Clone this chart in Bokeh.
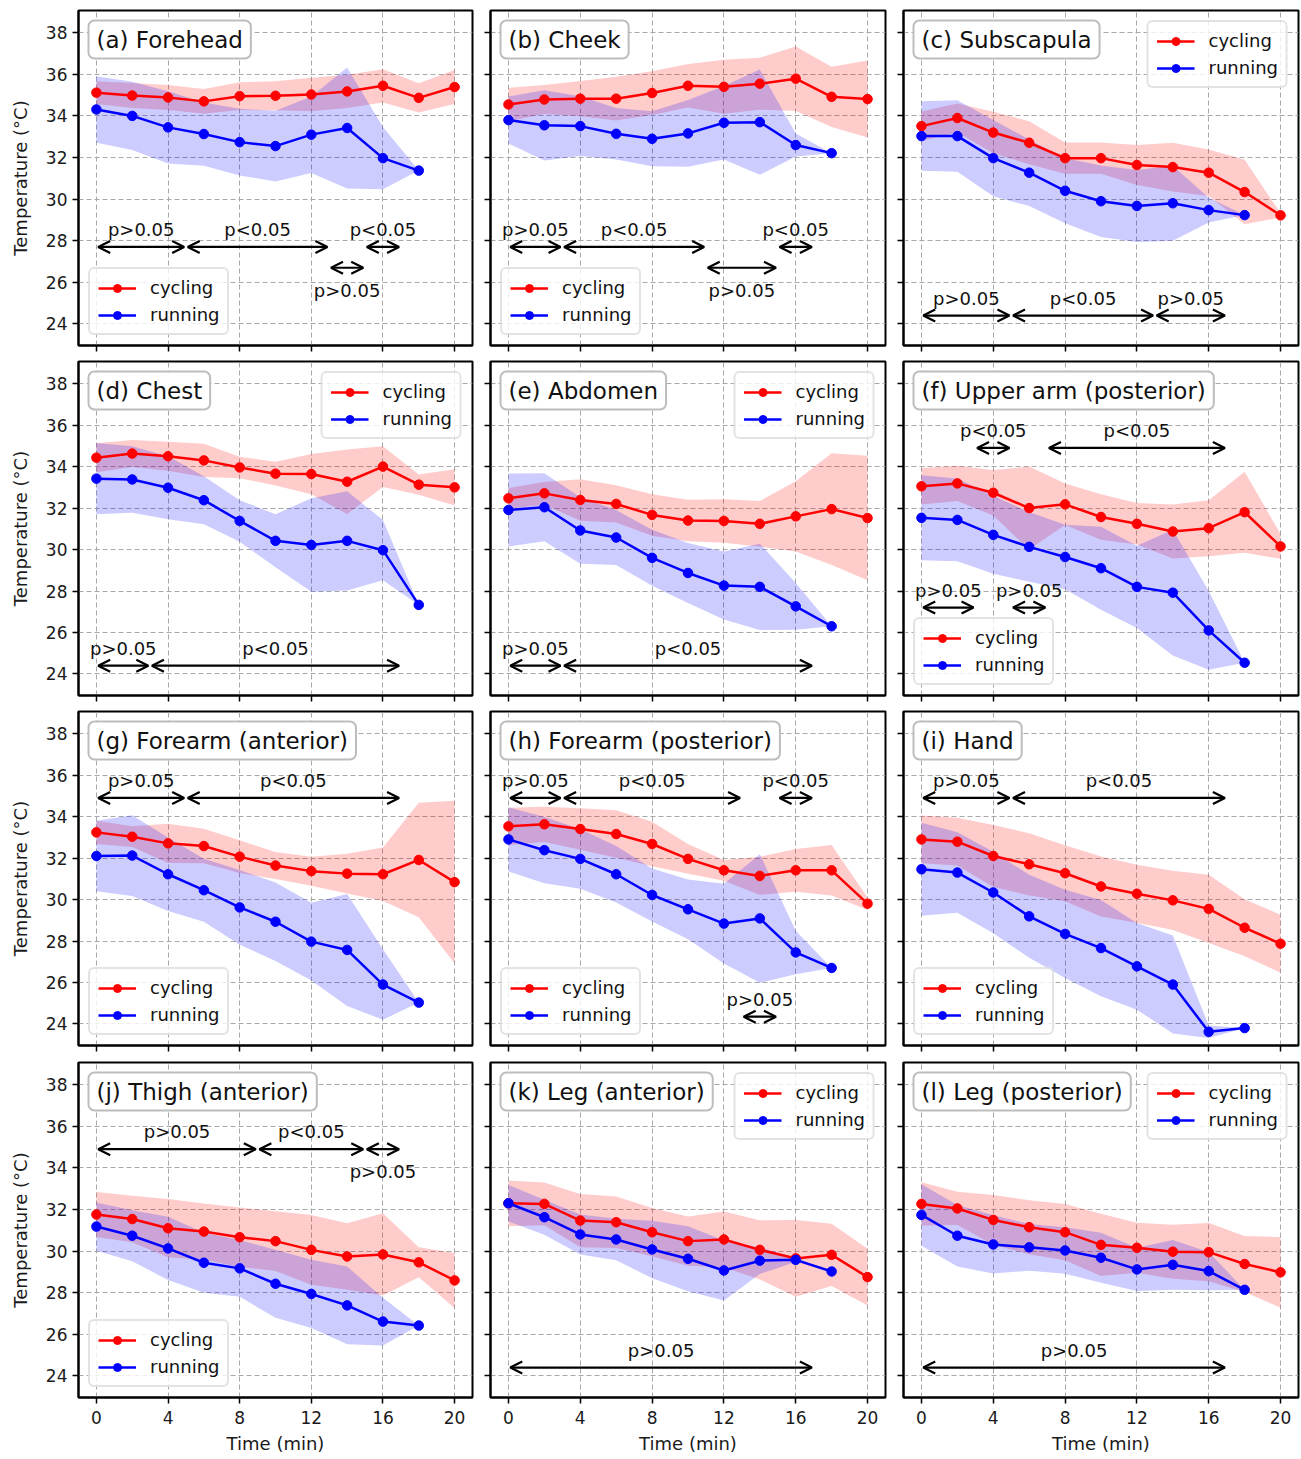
from bokeh.plotting import figure
from bokeh.layouts import gridplot
from bokeh.models import (Range1d, FixedTicker, Label, Arrow, OpenHead, Legend,
                          LegendItem, ColumnDataSource, CustomJSTickFormatter)
from bokeh.embed import file_html
from bokeh.resources import INLINE

# ---------------- data ----------------
time_cycling = [0, 2, 4, 6, 8, 10, 12, 14, 16, 18, 20]
time_running = [0, 2, 4, 6, 8, 10, 12, 14, 16, 18]
x_ticks = [0, 4, 8, 12, 16, 20]
y_ticks = [24, 26, 28, 30, 32, 34, 36, 38]
series_names = ["cycling", "running"]

titles = ["(a) Forehead", "(b) Cheek", "(c) Subscapula", "(d) Chest", "(e) Abdomen",
          "(f) Upper arm (posterior)", "(g) Forearm (anterior)", "(h) Forearm (posterior)",
          "(i) Hand", "(j) Thigh (anterior)", "(k) Leg (anterior)", "(l) Leg (posterior)"]

forehead_cyc = [35.12, 34.98, 34.89, 34.70, 34.95, 34.97, 35.03, 35.18, 35.45, 34.87, 35.39]
forehead_cyc_sd = [0.55, 0.6, 0.6, 0.6, 0.67, 0.7, 0.8, 0.8, 0.8, 0.7, 0.82]
forehead_run = [34.31, 34.00, 33.45, 33.13, 32.74, 32.55, 33.10, 33.42, 31.97, 31.37]
forehead_run_sd = [1.6, 1.64, 1.74, 1.52, 1.6, 1.7, 1.84, 2.91, 1.5, 0.0]

cheek_cyc = [34.55, 34.79, 34.83, 34.83, 35.10, 35.45, 35.40, 35.55, 35.79, 34.92, 34.81]
cheek_cyc_sd = [0.8, 0.7, 0.85, 1.05, 1.05, 1.05, 1.3, 1.25, 1.55, 1.45, 1.85]
cheek_run = [33.80, 33.55, 33.51, 33.14, 32.90, 33.16, 33.67, 33.70, 32.60, 32.21]
cheek_run_sd = [1.13, 1.69, 1.44, 1.24, 1.32, 1.6, 1.77, 2.53, 0.55, 0.0]

subscapula_cyc = [33.51, 33.90, 33.20, 32.71, 31.97, 31.97, 31.64, 31.54, 31.27, 30.34, 29.22]
subscapula_cyc_sd = [0.7, 0.7, 1.0, 1.03, 0.75, 0.75, 0.96, 1.17, 1.12, 1.55, 0.1]
subscapula_run = [33.03, 33.03, 31.97, 31.27, 30.40, 29.90, 29.67, 29.80, 29.47, 29.23]
subscapula_run_sd = [1.67, 1.72, 1.83, 1.6, 1.56, 1.72, 1.73, 1.8, 0.6, 0.0]

chest_cyc = [34.43, 34.63, 34.50, 34.30, 33.96, 33.66, 33.64, 33.27, 34.00, 33.13, 33.00]
chest_cyc_sd = [0.7, 0.65, 0.7, 0.8, 0.52, 0.57, 0.97, 1.56, 0.98, 0.49, 0.87]
chest_run = [33.42, 33.38, 32.98, 32.38, 31.38, 30.42, 30.22, 30.42, 29.97, 27.33]
chest_run_sd = [1.72, 1.6, 1.52, 1.16, 1.0, 1.28, 2.25, 2.39, 1.45, 0.0]

abdomen_cyc = [32.47, 32.71, 32.39, 32.20, 31.67, 31.40, 31.38, 31.24, 31.60, 31.95, 31.52]
abdomen_cyc_sd = [0.5, 0.55, 1.0, 0.9, 1.0, 1.0, 1.05, 1.1, 1.7, 2.7, 3.0]
abdomen_run = [31.91, 32.04, 30.92, 30.58, 29.60, 28.87, 28.26, 28.20, 27.26, 26.30]
abdomen_run_sd = [1.76, 1.64, 1.6, 1.33, 1.35, 1.45, 1.64, 2.08, 1.13, 0.0]

upperarm_cyc = [33.05, 33.19, 32.74, 32.00, 32.18, 31.57, 31.24, 30.87, 31.03, 31.80, 30.15]
upperarm_cyc_sd = [0.88, 0.85, 1.1, 2.0, 1.0, 1.1, 1.0, 1.3, 1.35, 1.95, 0.6]
upperarm_run = [31.53, 31.43, 30.71, 30.13, 29.64, 29.10, 28.20, 27.92, 26.10, 24.54]
upperarm_run_sd = [2.05, 2.0, 1.88, 1.68, 1.55, 2.0, 1.98, 3.03, 1.9, 0.0]

forearm_ant_cyc = [33.24, 33.03, 32.71, 32.58, 32.07, 31.64, 31.37, 31.25, 31.22, 31.91, 30.84]
forearm_ant_cyc_sd = [0.56, 0.5, 0.95, 0.83, 0.79, 0.65, 0.7, 0.96, 1.29, 2.76, 3.93]
forearm_ant_run = [32.10, 32.12, 31.22, 30.45, 29.62, 28.93, 27.97, 27.57, 25.90, 25.03]
forearm_ant_run_sd = [1.7, 1.95, 1.77, 1.52, 1.8, 1.89, 1.88, 2.7, 1.7, 0.0]

forearm_post_cyc = [33.53, 33.63, 33.40, 33.16, 32.68, 31.96, 31.41, 31.14, 31.41, 31.41, 29.80]
forearm_post_cyc_sd = [0.9, 0.85, 1.0, 1.15, 1.07, 0.72, 0.5, 0.92, 1.03, 1.22, 0.3]
forearm_post_run = [32.90, 32.38, 31.96, 31.22, 30.22, 29.53, 28.84, 29.09, 27.45, 26.70]
forearm_post_run_sd = [1.55, 1.6, 1.44, 1.36, 1.28, 1.44, 1.92, 3.1, 1.05, 0.0]

hand_cyc = [32.90, 32.79, 32.10, 31.70, 31.27, 30.63, 30.28, 29.96, 29.55, 28.64, 27.87]
hand_cyc_sd = [1.15, 1.15, 1.5, 1.5, 1.35, 1.45, 1.4, 1.43, 1.65, 1.37, 1.4]
hand_run = [31.46, 31.30, 30.34, 29.19, 28.34, 27.66, 26.78, 25.90, 23.62, 23.80]
hand_run_sd = [2.24, 1.94, 1.97, 2.0, 2.13, 2.32, 2.09, 2.36, 0.3, 0.0]

thigh_cyc = [31.76, 31.54, 31.10, 30.94, 30.67, 30.48, 30.06, 29.74, 29.84, 29.46, 28.59]
thigh_cyc_sd = [1.08, 1.12, 1.4, 1.35, 1.43, 1.44, 1.68, 1.6, 1.98, 0.72, 1.32]
thigh_run = [31.18, 30.74, 30.13, 29.44, 29.17, 28.43, 27.94, 27.39, 26.61, 26.42]
thigh_run_sd = [1.16, 1.23, 1.52, 1.44, 1.36, 1.64, 1.64, 1.87, 1.15, 0.0]

leg_ant_cyc = [32.30, 32.27, 31.47, 31.39, 30.91, 30.48, 30.56, 30.06, 29.65, 29.82, 28.75]
leg_ant_cyc_sd = [1.1, 1.03, 1.28, 1.24, 1.16, 1.19, 1.34, 1.42, 1.84, 1.5, 1.36]
leg_ant_run = [32.30, 31.63, 30.80, 30.56, 30.08, 29.63, 29.07, 29.54, 29.58, 29.02]
leg_ant_run_sd = [0.88, 0.84, 0.96, 1.0, 1.38, 1.56, 1.44, 0.64, 0.1, 0.0]

leg_post_cyc = [32.27, 32.05, 31.50, 31.15, 30.91, 30.30, 30.16, 29.97, 29.95, 29.38, 28.98]
leg_post_cyc_sd = [1.04, 0.8, 1.2, 1.3, 1.35, 1.5, 1.2, 1.3, 1.4, 1.35, 1.7]
leg_post_run = [31.74, 30.74, 30.32, 30.18, 30.03, 29.68, 29.12, 29.34, 29.04, 28.14]
leg_post_run_sd = [1.48, 1.48, 1.4, 1.12, 1.12, 1.2, 1.04, 1.2, 0.92, 0.0]

# significance intervals (start min, end min, label)
forehead_p = [(0, 5, "p>0.05"), (5, 13, "p<0.05"), (15, 17, "p<0.05"), (13, 15, "p>0.05")]
cheek_p = [(0, 3, "p>0.05"), (3, 11, "p<0.05"), (15, 17, "p<0.05"), (11, 15, "p>0.05")]
subscapula_p = [(0, 5, "p>0.05"), (5, 13, "p<0.05"), (13, 17, "p>0.05")]
chest_p = [(0, 3, "p>0.05"), (3, 17, "p<0.05")]
abdomen_p = [(0, 3, "p>0.05"), (3, 17, "p<0.05")]
upperarm_p = [(3, 5, "p<0.05"), (7, 17, "p<0.05"), (0, 3, "p>0.05"), (5, 7, "p>0.05")]
forearm_ant_p = [(0, 5, "p>0.05"), (5, 17, "p<0.05")]
forearm_post_p = [(0, 3, "p>0.05"), (3, 13, "p<0.05"), (15, 17, "p<0.05"), (13, 15, "p>0.05")]
hand_p = [(0, 5, "p>0.05"), (5, 17, "p<0.05")]
thigh_p = [(0, 9, "p>0.05"), (9, 15, "p<0.05"), (15, 17, "p>0.05")]
leg_ant_p = [(0, 17, "p>0.05")]
leg_post_p = [(0, 17, "p>0.05")]

# ---------------- layout / style ----------------
forehead_p_pos = [(27.7, "above"), (27.7, "above"), (27.7, "above"), (26.7, "below")]
cheek_p_pos = [(27.7, "above"), (27.7, "above"), (27.7, "above"), (26.7, "below")]
subscapula_p_pos = [(24.4, "above")] * 3
chest_p_pos = [(24.4, "above")] * 2
abdomen_p_pos = [(24.4, "above")] * 2
upperarm_p_pos = [(34.9, "above"), (34.9, "above"), (27.2, "above"), (27.2, "above")]
forearm_ant_p_pos = [(34.9, "above")] * 2
forearm_post_p_pos = [(34.9, "above")] * 3 + [(24.35, "above")]
hand_p_pos = [(34.9, "above")] * 2
thigh_p_pos = [(34.9, "above"), (34.9, "above"), (34.9, "below")]
leg_ant_p_pos = [(24.4, "above")]
leg_post_p_pos = [(24.4, "above")]

legend_locs = ["bottom_left", "bottom_left", "top_right", "top_right", "top_right",
               "bottom_left", "bottom_left", "bottom_left", "bottom_left", "bottom_left",
               "top_right", "top_right"]

panels = [
    (forehead_cyc, forehead_cyc_sd, forehead_run, forehead_run_sd, forehead_p, forehead_p_pos),
    (cheek_cyc, cheek_cyc_sd, cheek_run, cheek_run_sd, cheek_p, cheek_p_pos),
    (subscapula_cyc, subscapula_cyc_sd, subscapula_run, subscapula_run_sd, subscapula_p, subscapula_p_pos),
    (chest_cyc, chest_cyc_sd, chest_run, chest_run_sd, chest_p, chest_p_pos),
    (abdomen_cyc, abdomen_cyc_sd, abdomen_run, abdomen_run_sd, abdomen_p, abdomen_p_pos),
    (upperarm_cyc, upperarm_cyc_sd, upperarm_run, upperarm_run_sd, upperarm_p, upperarm_p_pos),
    (forearm_ant_cyc, forearm_ant_cyc_sd, forearm_ant_run, forearm_ant_run_sd, forearm_ant_p, forearm_ant_p_pos),
    (forearm_post_cyc, forearm_post_cyc_sd, forearm_post_run, forearm_post_run_sd, forearm_post_p, forearm_post_p_pos),
    (hand_cyc, hand_cyc_sd, hand_run, hand_run_sd, hand_p, hand_p_pos),
    (thigh_cyc, thigh_cyc_sd, thigh_run, thigh_run_sd, thigh_p, thigh_p_pos),
    (leg_ant_cyc, leg_ant_cyc_sd, leg_ant_run, leg_ant_run_sd, leg_ant_p, leg_ant_p_pos),
    (leg_post_cyc, leg_post_cyc_sd, leg_post_run, leg_post_run_sd, leg_post_p, leg_post_p_pos),
]

FONT = "DejaVu Sans"
RED = "#ff0000"
BLUE = "#0000ff"
X0, X1 = -1.0, 21.0
Y0, Y1 = 22.96, 39.07
SHRINK = 0.1
# per column: (left border, frame width, right border)
COLS = [(78, 394, 2), (16, 395, 2), (16, 395, 3)]
# per row: (top border, frame height, bottom border)
ROWS = [(10, 335, 14), (2, 334, 14), (2, 334, 15), (2, 335, 60)]

label_props = Label.properties()
legend_props = Legend.properties()


def make_panel(idx):
    cm, cs, rm, rs, ptests, ppos = panels[idx]
    r, c = divmod(idx, 3)
    left, fw, right = COLS[c]
    top, fh, bottom = ROWS[r]
    p = figure(width=left + fw + right, height=top + fh + bottom,
               x_range=Range1d(X0, X1), y_range=Range1d(Y0, Y1),
               output_backend="svg", toolbar_location=None, title=None,
               min_border_left=left, min_border_right=right,
               min_border_top=top, min_border_bottom=bottom)
    p.background_fill_color = "white"
    p.border_fill_color = "white"
    p.outline_line_color = "black"
    p.outline_line_width = 2

    p.xaxis.ticker = FixedTicker(ticks=x_ticks)
    p.yaxis.ticker = FixedTicker(ticks=y_ticks)
    for g, tk in ((p.xgrid, x_ticks), (p.ygrid, y_ticks)):
        g.ticker = FixedTicker(ticks=tk)
        g.grid_line_color = "#a8a8a8"
        g.grid_line_dash = "5 3"
        g.grid_line_width = 1
    for ax in (p.xaxis, p.yaxis):
        ax.major_tick_out = 6
        ax.major_tick_in = 0
        ax.minor_tick_out = 0
        ax.minor_tick_in = 0
        ax.major_tick_line_color = "black"
        ax.major_tick_line_width = 1.5
        ax.axis_line_color = "black"
        ax.axis_line_width = 2
        ax.major_label_text_font = FONT
        ax.major_label_text_font_size = "17px"
        ax.major_label_text_color = "#1a1a1a"
        ax.axis_label_text_font = FONT
        ax.axis_label_text_font_size = "18px"
        ax.axis_label_text_font_style = "normal"
        ax.axis_label_text_color = "#1a1a1a"
    if r < 3:
        p.xaxis.formatter = CustomJSTickFormatter(code="return '';")
        p.xaxis.major_label_text_font_size = "0px"
        p.xaxis.major_label_standoff = 0
    else:
        p.xaxis.axis_label = "Time (min)"
        p.xaxis.major_label_standoff = 7
        p.xaxis.axis_label_standoff = 6
    if c > 0:
        p.yaxis.formatter = CustomJSTickFormatter(code="return '';")
        p.yaxis.major_label_text_font_size = "0px"
        p.yaxis.major_label_standoff = 0
    else:
        p.yaxis.axis_label = "Temperature (°C)"
        p.yaxis.major_label_standoff = 5
        p.yaxis.axis_label_standoff = 12

    src_c = ColumnDataSource(dict(t=time_cycling, m=cm,
                                  lo=[a - b for a, b in zip(cm, cs)],
                                  hi=[a + b for a, b in zip(cm, cs)]))
    src_r = ColumnDataSource(dict(t=time_running, m=rm,
                                  lo=[a - b for a, b in zip(rm, rs)],
                                  hi=[a + b for a, b in zip(rm, rs)]))
    p.varea(x="t", y1="lo", y2="hi", source=src_c, fill_color=RED, fill_alpha=0.2)
    p.varea(x="t", y1="lo", y2="hi", source=src_r, fill_color=BLUE, fill_alpha=0.2)
    lc = p.line("t", "m", source=src_c, line_color=RED, line_width=2.5)
    sc = p.scatter("t", "m", source=src_c, size=9.5, fill_color=RED, line_color=RED)
    lr = p.line("t", "m", source=src_r, line_color=BLUE, line_width=2.5)
    sr = p.scatter("t", "m", source=src_r, size=9.5, fill_color=BLUE, line_color=BLUE)

    # significance arrows
    for (t0, t1, lab), (lev, side) in zip(ptests, ppos):
        p.add_layout(Arrow(start=OpenHead(size=12, line_width=2.2, line_color="black"),
                           end=OpenHead(size=12, line_width=2.2, line_color="black"),
                           x_start=t0 + SHRINK, x_end=t1 - SHRINK,
                           y_start=lev, y_end=lev, line_width=2.2, line_color="black"))
        p.add_layout(Label(x=(t0 + t1) / 2, y=lev, text=lab, text_align="center",
                           text_baseline="bottom" if side == "above" else "top",
                           y_offset=7 if side == "above" else -12,
                           text_font=FONT, text_font_size="18px", text_color="#111111"))

    # panel title in a rounded box
    tkw = dict(x=X0, y=Y1, x_offset=10, y_offset=-10, text=titles[idx],
               text_align="left", text_baseline="top", text_font=FONT,
               text_font_size="23px", text_color="#111111",
               background_fill_color="white", background_fill_alpha=1.0,
               border_line_color="#bdbdbd", border_line_width=2)
    if "padding" in label_props:
        tkw["padding"] = (8, 6)
    if "border_radius" in label_props:
        tkw["border_radius"] = 6
    p.add_layout(Label(**tkw))

    lkw = dict(items=[LegendItem(label=series_names[0], renderers=[lc, sc]),
                      LegendItem(label=series_names[1], renderers=[lr, sr])],
               location=legend_locs[idx], margin=10, padding=8, spacing=6,
               glyph_width=38, glyph_height=20, label_standoff=14, label_height=20,
               label_text_font=FONT, label_text_font_size="18px",
               label_text_color="#111111",
               background_fill_color="white", background_fill_alpha=0.8,
               border_line_color="#c8c8c8", border_line_width=2)
    if "border_radius" in legend_props:
        lkw["border_radius"] = 6
    p.add_layout(Legend(**lkw))
    return p


figs = [make_panel(i) for i in range(12)]
grid = gridplot([figs[0:3], figs[3:6], figs[6:9], figs[9:12]], toolbar_location=None)

open("out.html", "w").write(file_html(grid, INLINE))
